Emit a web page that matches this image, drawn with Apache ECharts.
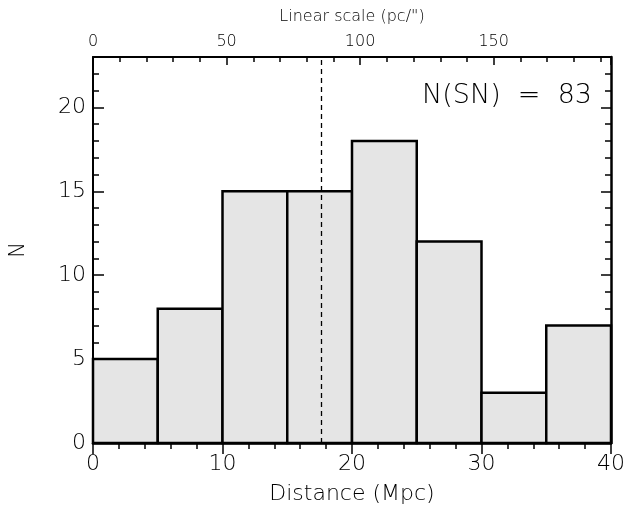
<!DOCTYPE html>
<html>
<head>
<meta charset="utf-8">
<script src="https://cdn.jsdelivr.net/npm/echarts@6/dist/echarts.min.js"></script>
<style>html,body{margin:0;padding:0;background:#fff}#c{width:628px;height:510px}</style>
</head>
<body>
<div id="c"></div>
<script>
// Histogram bins (Mpc) and counts
const binStarts = [0, 5, 10, 15, 20, 25, 30, 35];
const binWidth = 5;
const counts = [5, 8, 15, 15, 18, 12, 3, 7];
const meanDistance = 17.6;
const totalLabel = 'N(SN)  =  83';
// Axis ranges
const xRange = [0, 40];
const yRange = [0, 23];
const yTicks = [0, 5, 10, 15, 20];
const pcPerArcsecPerMpc = 4.848; // top axis: linear scale (pc/")
const topTicks = [0, 50, 100, 150];

const FONT = 'DejaVu Sans';
const FW = 200;
const TXT = '#000';
const chart = echarts.init(document.getElementById('c'), null, {renderer: 'canvas'});
const histData = binStarts.map((s, i) => [s, s + binWidth, counts[i]]);

const tickColor = '#000';
chart.setOption({
  animation: false,
  backgroundColor: '#fff',
  grid: {left: 93, right: 14, top: 57, bottom: 62, containLabel: false},
  xAxis: [
    {
      type: 'value', min: xRange[0], max: xRange[1], interval: 10, position: 'bottom',
      name: 'Distance (Mpc)', nameLocation: 'middle', nameGap: 40,
      nameTextStyle: {fontFamily: FONT, fontWeight: FW, fontSize: 22, color: TXT},
      axisLine: {show: true, onZero: false, lineStyle: {color: '#000', width: 2.5}},
      axisTick: {show: true, inside: false, length: 11, lineStyle: {color: tickColor, width: 1.5}},
      minorTick: {show: true, splitNumber: 5, length: 6, lineStyle: {color: tickColor, width: 1.5}},
      axisLabel: {fontFamily: FONT, fontWeight: FW, fontSize: 22, color: TXT, margin: 10},
      splitLine: {show: false}
    },
    {
      type: 'value', min: xRange[0] * pcPerArcsecPerMpc, max: xRange[1] * pcPerArcsecPerMpc,
      interval: 50, position: 'top',
      name: 'Linear scale (pc/")', nameLocation: 'middle', nameGap: 32,
      nameTextStyle: {fontFamily: FONT, fontWeight: FW, fontSize: 16, color: TXT},
      axisLine: {show: true, onZero: false, lineStyle: {color: '#000', width: 2}},
      axisTick: {show: true, inside: true, length: 8, lineStyle: {color: tickColor, width: 1.5}},
      minorTick: {show: true, splitNumber: 5, length: 5, lineStyle: {color: tickColor, width: 1.5}},
      axisLabel: {fontFamily: FONT, fontWeight: FW, fontSize: 16, color: TXT, margin: 7,
        formatter: v => topTicks.indexOf(v) >= 0 ? String(v) : ''},
      splitLine: {show: false}
    }
  ],
  yAxis: [
    {
      type: 'value', min: yRange[0], max: yRange[1], interval: 5, position: 'left',
      name: 'N', nameLocation: 'middle', nameGap: 64, nameRotate: 90,
      nameTextStyle: {fontFamily: FONT, fontWeight: FW, fontSize: 21, color: TXT},
      axisLine: {show: true, onZero: false, lineStyle: {color: '#000', width: 2}},
      axisTick: {show: true, inside: true, length: 11, lineStyle: {color: tickColor, width: 1.5}},
      minorTick: {show: true, splitNumber: 5, length: 6, lineStyle: {color: tickColor, width: 1.5}},
      axisLabel: {fontFamily: FONT, fontWeight: FW, fontSize: 22, color: TXT, margin: 7,
        showMaxLabel: false,
        formatter: v => yTicks.indexOf(v) >= 0 ? String(v) : ''},
      splitLine: {show: false}
    },
    {
      type: 'value', min: yRange[0], max: yRange[1], interval: 5, position: 'right',
      axisLine: {show: true, onZero: false, lineStyle: {color: '#000', width: 2.5}},
      axisTick: {show: true, inside: true, length: 10, lineStyle: {color: tickColor, width: 1.5}},
      minorTick: {show: true, splitNumber: 5, length: 6, lineStyle: {color: tickColor, width: 1.5}},
      axisLabel: {show: false},
      splitLine: {show: false}
    }
  ],
  series: [
    {
      type: 'custom',
      xAxisIndex: 0, yAxisIndex: 0,
      data: histData,
      z: 3,
      renderItem: function (params, api) {
        const p0 = api.coord([api.value(0), api.value(2)]);
        const p1 = api.coord([api.value(1), 0]);
        return {
          type: 'rect',
          shape: {x: p0[0], y: p0[1], width: p1[0] - p0[0], height: p1[1] - p0[1]},
          style: {fill: '#e5e5e5', stroke: '#000', lineWidth: 2.5}
        };
      },
      markLine: {
        silent: true, symbol: 'none', z: 5,
        label: {show: false},
        lineStyle: {color: '#000', type: [5, 4], width: 1.3},
        data: [{xAxis: meanDistance}]
      }
    }
  ],
  graphic: [
    {
      type: 'text', right: 36, top: 82, z: 10,
      style: {text: totalLabel, fontFamily: FONT, fontWeight: FW, fontSize: 27, fill: TXT}
    }
  ]
});
</script>
</body>
</html>
